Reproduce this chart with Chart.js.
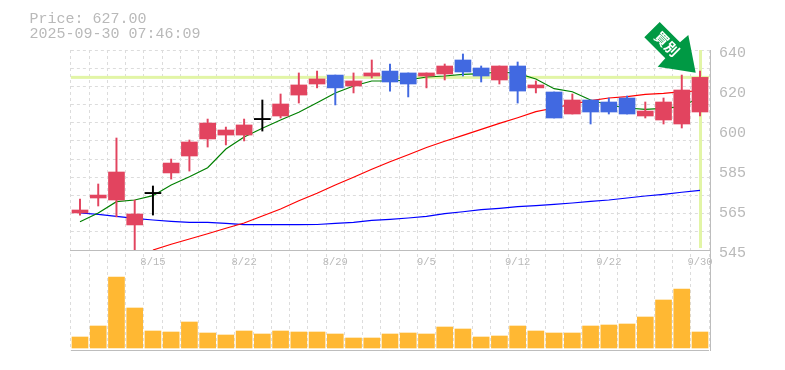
<!DOCTYPE html>
<html>
<head>
<meta charset="utf-8">
<style>html,body{margin:0;padding:0;background:#fff}#wrap{width:785px;height:370px;position:relative}</style>
<script src="https://cdn.jsdelivr.net/npm/chart.js@4"></script>
</head>
<body>
<div id="wrap"><canvas id="c" width="785" height="370"></canvas></div>
<script>
const categories = ['8/8','8/12','8/13','8/14','8/15','8/18','8/19','8/20','8/21','8/22','8/25','8/26','8/27','8/28','8/29','9/1','9/2','9/3','9/4','9/5','9/8','9/9','9/10','9/11','9/12','9/16','9/17','9/18','9/19','9/22','9/24','9/25','9/26','9/29','9/30'];
const shownDates = ['8/15','8/22','8/29','9/5','9/12','9/22','9/30'];
const opens  = [562.6,569.7,568.75,556.9,572.05,581.6,589.65,597.75,599.6,599.6,607.2,608.65,618.6,623.85,628.1,622.9,627.65,630,629.1,627.65,628.6,635.25,631.45,625.75,632.4,622,620.05,609.6,616.25,615.3,617.2,608.65,606.75,604.85,610.55];
const closes = [564,571.1,582.05,562.1,572.05,586.3,596.3,605.3,602,604.4,607.2,614.35,623.4,626.25,622,625.3,629.1,624.8,623.85,629.1,632.4,629.55,627.65,632.4,620.5,623.4,607.7,616.25,610.55,610.55,609.6,611,615.3,621,627];
const highs  = [569.2,576.35,598.2,568.75,575.4,588.2,597.25,607.2,603.4,607.2,616.25,619.1,629.1,630,628.1,629.1,635.25,633.35,629.1,629.1,633.35,638.1,632.4,632.4,634.3,625.3,620.05,619.1,616.25,617.2,618.15,615.3,617.2,628.1,630];
const lows   = [561.6,565.9,560.7,545,561.6,578.7,582.5,593.9,594.9,596.8,601.5,607.7,614.8,622,613.9,619.6,626.7,620.5,617.7,622,625.75,627.65,624.8,623.85,614.8,619.6,607.7,609.6,604.85,609.6,609.6,607.7,604.85,602.95,608.65];
const maShort = [558.44,562.58,567.94,568.75,570.79,575.88,579.82,584.09,592.98,598.68,602.81,606.75,610.41,614.97,619.58,622.9,625.28,625.28,625.75,627.18,627.65,628.46,628.74,629.55,628.93,626.23,621.62,620.19,616.25,613.88,612.45,611.83,612.31,613.07,617.68];
const maMid = [null,null,null,null,545,547.71,550.23,552.74,555.31,557.82,561.15,564.48,568.42,571.93,575.88,579.53,583.33,586.94,590.27,593.7,596.63,599.48,602.33,605.18,607.84,610.69,612.45,614.35,615.92,617.2,617.82,618.96,619.43,620.19,620.53];
const maLong = [562.58,561.96,561.01,560.06,559.25,558.63,558.16,558.16,557.68,557.02,557.02,557.02,557.02,557.11,557.68,558.16,559.11,559.58,560.2,561.01,562.24,563.18,564.14,564.81,565.57,566.05,566.71,567.33,568.13,568.75,569.7,570.65,571.46,572.42,573.36];
const volumes = [11,22,71,40,17,16,26,15,13,17,14,17,16,16,14,10,10,14,15,14,21,19,11,12,22,17,15,15,22,23,24,31,48,59,16];
const priceTickValues = [640,621,602,583,564,545];
const priceTickLabels = ['640','620','600','585','565','545'];
const priceMin = 545, priceMax = 640, gridDivisions = 11;
const lastPrice = 627;
const headerLines = ['Price: 627.00','2025-09-30 07:46:09'];
const signalText = '買別';

const RED='#e2445f', BLUE='#4169e1', BLACK='#000', HILITE='#e2f5a6', GRID='#dcdcdc', AXIS='#bdbdbd', TEXT='#b9b9b9';
const bodyColor = closes.map((c,i)=> c>opens[i]?RED : c<opens[i]?BLUE : BLACK);
const bodies = closes.map((c,i)=> c===opens[i] ? [c-0.3,c+0.3] : [opens[i],c]);
const wicks = lows.map((l,i)=>[l,highs[i]]);

const gridValues = Array.from({length:gridDivisions+1},(_,k)=>priceMax-k*(priceMax-priceMin)/gridDivisions);

const deco = {
  id:'deco',
  beforeDatasetsDraw(chart){
    const {ctx,chartArea:a,scales} = chart;
    ctx.save();
    ctx.fillStyle = HILITE;
    const py = scales.y.getPixelForValue(lastPrice);
    ctx.fillRect(a.left, py-1.5, a.right-a.left, 3);
    const px = scales.x.getPixelForValue(categories.length-1);
    ctx.fillRect(Math.round(px)-1, scales.y.top, 3, scales.y.bottom-scales.y.top-2);
    ctx.restore();
  },
  afterDraw(chart){
    const {ctx,chartArea:a} = chart;
    ctx.save();
    // right frame edge
    ctx.fillStyle = AXIS;
    ctx.fillRect(710, a.top, 1, a.bottom-a.top+1);
    ctx.font = '15px "Liberation Mono"';
    ctx.fillStyle = TEXT;
    ctx.textBaseline = 'alphabetic';
    ctx.fillText(headerLines[0], 29.5, 23);
    ctx.fillText(headerLines[1], 29.5, 38);
    // signal arrow
    ctx.fillStyle = '#009944';
    ctx.beginPath();
    [[659.7,22],[680,42.3],[688.3,35],[695.7,72.7],[657.7,66.7],[665.3,58.3],[644.3,37.3]].forEach((p,i)=> i?ctx.lineTo(p[0],p[1]):ctx.moveTo(p[0],p[1]));
    ctx.closePath(); ctx.fill();
    ctx.translate(667,44);
    ctx.rotate(Math.PI/4);
    ctx.fillStyle = '#fff';
    ctx.font = 'bold 14px "Noto Sans CJK JP"';
    ctx.textAlign = 'center';
    ctx.textBaseline = 'middle';
    ctx.fillText(signalText, 0, 0);
    ctx.restore();
  }
};

new Chart(document.getElementById('c'),{
  data:{
    labels:categories,
    datasets:[
      {type:'bar',data:bodies,yAxisID:'y',backgroundColor:bodyColor,barThickness:16,grouped:false,order:1,borderWidth:0},
      {type:'bar',data:wicks,yAxisID:'y',backgroundColor:bodyColor,barThickness:1.3,grouped:false,order:2,borderWidth:0},
      {type:'line',data:maShort,yAxisID:'y',borderColor:'#008000',borderWidth:1.2,pointRadius:0,tension:0,order:3},
      {type:'line',data:maMid,yAxisID:'y',borderColor:'#ff0000',borderWidth:1.2,pointRadius:0,tension:0,order:3},
      {type:'line',data:maLong,yAxisID:'y',borderColor:'#0000ff',borderWidth:1.2,pointRadius:0,tension:0,order:3},
      {type:'bar',data:volumes,yAxisID:'vol',backgroundColor:'#ffb833',barThickness:16,grouped:false,order:4,borderWidth:0}
    ]
  },
  options:{
    responsive:false,animation:false,
    layout:{padding:{left:70.88,top:50,right:0,bottom:20}},
    plugins:{legend:{display:false},tooltip:{enabled:false}},
    scales:{
      x:{
        type:'category',offset:true,
        position:{y:priceMin},
        grid:{offset:true,color:GRID,drawTicks:false},
        border:{color:AXIS,dash:[3,3],display:true},
        ticks:{autoSkip:false,maxRotation:0,minRotation:0,padding:6,color:TEXT,font:{family:'"Liberation Mono"',size:10.5},
          callback(v){const l=this.getLabelForValue(v);return shownDates.includes(l)?l:'';}}
      },
      y:{
        type:'linear',position:'right',stack:'s',stackWeight:2,min:priceMin,max:priceMax,
        afterBuildTicks(s){
          const vals=[...new Set([...gridValues.map(v=>Math.round(v*1000)/1000),...priceTickValues])];
          s.ticks=vals.map(value=>({value}));
        },
        afterFit(s){s.width=75.88;},
        grid:{drawTicks:false,color:c=>gridValues.some(g=>Math.abs(g-c.tick.value)<0.002)?GRID:'rgba(0,0,0,0)'},
        border:{display:false,dash:[3,3]},
        ticks:{autoSkip:false,padding:10,labelOffset:3,color:TEXT,font:{family:'"Liberation Mono"',size:15},
          callback(v){const i=priceTickValues.indexOf(v);return i>=0?priceTickLabels[i]:'';}}
      },
      vol:{
        type:'linear',position:'right',stack:'s',stackWeight:1,min:-2,max:98,
        afterBuildTicks(s){s.ticks=[{value:-2}];},
        afterFit(s){s.width=75.88;},
        grid:{drawTicks:false,color:AXIS},
        border:{display:false},
        ticks:{display:false}
      }
    }
  },
  plugins:[deco]
});
</script>
</body>
</html>
